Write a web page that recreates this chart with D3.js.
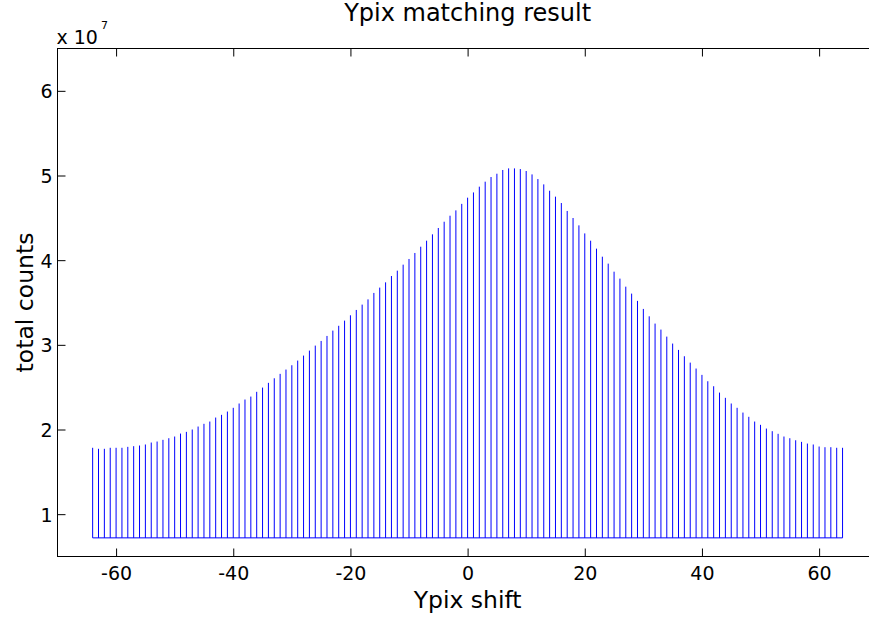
<!DOCTYPE html>
<html>
<head>
<meta charset="utf-8">
<script src="https://cdn.jsdelivr.net/npm/d3@7/dist/d3.min.js"></script>
<style>
  html, body { margin: 0; padding: 0; background: #fff; }
  svg { display: block; }
  text { font-family: "DejaVu Sans", sans-serif; fill: #000; }
</style>
</head>
<body>
<svg id="chart" width="869" height="619"></svg>
<script>
// Pixel shift along Y (one bar per integer shift)
const shifts = [
  -64,-63,-62,-61,-60,-59,-58,-57,-56,-55,-54,-53,-52,-51,-50,-49,-48,-47,-46,-45,-44,-43,
  -42,-41,-40,-39,-38,-37,-36,-35,-34,-33,-32,-31,-30,-29,-28,-27,-26,-25,-24,-23,-22,-21,
  -20,-19,-18,-17,-16,-15,-14,-13,-12,-11,-10,-9,-8,-7,-6,-5,-4,-3,-2,-1,
  0,1,2,3,4,5,6,7,8,9,10,11,12,13,14,15,16,17,18,19,20,21,22,23,24,25,26,27,28,29,30,
  31,32,33,34,35,36,37,38,39,40,41,42,43,44,45,46,47,48,49,50,51,52,53,54,55,56,57,58,
  59,60,61,62,63,64
];

// Total counts for each shift, in units of 10^countExponent
const countExponent = 7;
const totalCounts = [
  1.784,1.772,1.772,1.784,1.784,1.784,1.795,1.803,1.811,1.823,1.846,1.858,1.878,1.897,1.917,1.952,1.972,2.000,2.035,2.067,2.094,2.141,
  2.173,2.212,2.256,2.307,2.354,2.389,2.445,2.495,2.551,2.605,2.657,2.708,2.759,2.814,2.873,2.932,2.991,3.046,3.105,3.168,3.225,3.286,
  3.349,3.412,3.475,3.537,3.613,3.676,3.738,3.813,3.876,3.947,4.014,4.085,4.159,4.230,4.305,4.380,4.454,4.525,4.588,4.665,
  4.738,4.800,4.868,4.927,4.982,5.021,5.065,5.084,5.084,5.076,5.053,5.013,4.958,4.895,4.820,4.750,4.675,4.581,4.498,4.411,4.316,
  4.230,4.136,4.041,3.959,3.864,3.782,3.687,3.605,3.519,3.424,3.337,3.251,3.180,3.097,3.015,2.940,2.865,2.790,2.720,2.645,2.570,
  2.511,2.436,2.374,2.307,2.256,2.200,2.150,2.094,2.055,2.011,1.980,1.949,1.917,1.897,1.873,1.854,1.834,1.823,1.799,1.791,1.791,
  1.784,1.784
];

// Common base level of the bars
const barBase = 0.72;

// Axis ranges and ticks
const xDomain = [-70, 70];
const yDomain = [0.5, 6.5];
const xTicks = [-60, -40, -20, 0, 20, 40, 60];
const yTicks = [1, 2, 3, 4, 5, 6];

const titleText = "Ypix matching result";
const xLabel = "Ypix shift";
const yLabel = "total counts";

const svg = d3.select("#chart");
const plot = { left: 57.5, right: 877.7, top: 48.5, bottom: 556.5 };
const tickLen = 8;
const plainNumber = d => String(d);   // hyphen-minus, no thousands grouping

const x = d3.scaleLinear().domain(xDomain).range([plot.left, plot.right]);
const y = d3.scaleLinear().domain(yDomain).range([plot.bottom, plot.top]);

// Bars: thin vertical strokes from the common base
const bars = svg.append("g").attr("class", "bars");
bars.selectAll("line")
  .data(shifts.map((s, i) => ({ s, v: totalCounts[i] })))
  .join("line")
  .attr("x1", d => x(d.s))
  .attr("x2", d => x(d.s))
  .attr("y1", y(barBase))
  .attr("y2", d => y(d.v))
  .attr("stroke", "#0000ff")
  .attr("stroke-width", 1);

bars.append("line")
  .attr("x1", x(shifts[0]))
  .attr("x2", x(shifts[shifts.length - 1]))
  .attr("y1", y(barBase))
  .attr("y2", y(barBase))
  .attr("stroke", "#0000ff")
  .attr("stroke-width", 1);

// Axes: ticks pointing inward on all four sides
function styleAxis(g) {
  g.select(".domain").remove();
  g.selectAll(".tick line").attr("stroke", "#000").attr("stroke-width", 1);
}

svg.append("g")
  .attr("transform", `translate(0,${plot.bottom})`)
  .call(d3.axisBottom(x).tickValues(xTicks).tickSize(-tickLen).tickPadding(0).tickFormat(plainNumber))
  .call(styleAxis)
  .call(g => g.selectAll(".tick text")
    .attr("y", 23).attr("dy", 0)
    .style("font-size", "19px")
    .style("font-family", "DejaVu Sans, sans-serif"));

svg.append("g")
  .attr("transform", `translate(0,${plot.top})`)
  .call(d3.axisTop(x).tickValues(xTicks).tickSize(-tickLen).tickFormat(""))
  .call(styleAxis);

svg.append("g")
  .attr("transform", `translate(${plot.left},0)`)
  .call(d3.axisLeft(y).tickValues(yTicks).tickSize(-tickLen).tickPadding(0).tickFormat(plainNumber))
  .call(styleAxis)
  .call(g => g.selectAll(".tick text")
    .attr("x", -5).attr("dy", "0.36em")
    .style("font-size", "19px")
    .style("font-family", "DejaVu Sans, sans-serif"));

svg.append("g")
  .attr("transform", `translate(${plot.right},0)`)
  .call(d3.axisRight(y).tickValues(yTicks).tickSize(-tickLen).tickFormat(""))
  .call(styleAxis);

// Axes box
svg.append("rect")
  .attr("x", plot.left).attr("y", plot.top)
  .attr("width", plot.right - plot.left)
  .attr("height", plot.bottom - plot.top)
  .attr("fill", "none")
  .attr("stroke", "#000")
  .attr("stroke-width", 1);

// Exponent label
const expo = svg.append("text")
  .attr("x", plot.left - 1)
  .attr("y", 43.5)
  .style("font-size", "19px");
expo.append("tspan").text("x 10");
expo.append("tspan").attr("dx", 3).attr("dy", -15).style("font-size", "11px").text(countExponent);

// Title and axis labels
svg.append("text")
  .attr("x", (plot.left + plot.right) / 2)
  .attr("y", 21)
  .attr("text-anchor", "middle")
  .style("font-size", "24px")
  .text(titleText);

svg.append("text")
  .attr("x", x(0))
  .attr("y", 608)
  .attr("text-anchor", "middle")
  .style("font-size", "23.5px")
  .text(xLabel);

svg.append("text")
  .attr("transform", `translate(33,${(plot.top + plot.bottom) / 2}) rotate(-90)`)
  .attr("text-anchor", "middle")
  .style("font-size", "23.5px")
  .text(yLabel);
</script>
</body>
</html>
